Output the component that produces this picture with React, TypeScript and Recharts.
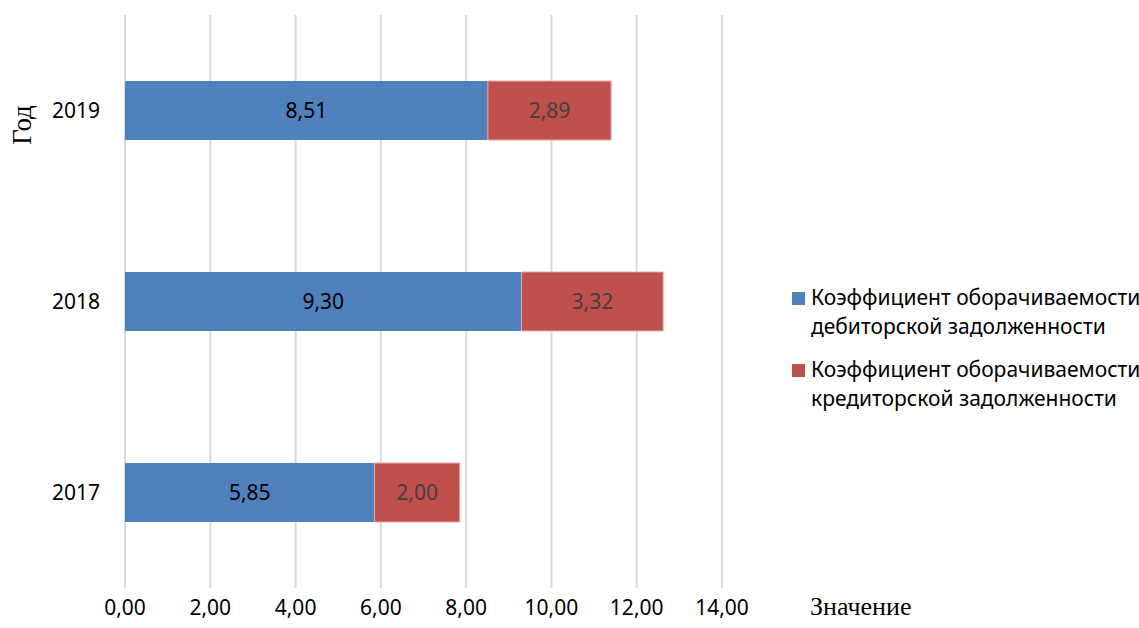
import { BarChart, Bar, XAxis, YAxis, CartesianGrid, LabelList } from 'recharts'

const years = ['2019', '2018', '2017']
const receivableTurnover = [8.51, 9.3, 5.85]
const payableTurnover = [2.89, 3.32, 2.0]
const xTicks = [0, 2, 4, 6, 8, 10, 12, 14]

const seriesNames = [
  'Коэффициент оборачиваемости дебиторской задолженности',
  'Коэффициент оборачиваемости кредиторской задолженности',
]
const BLUE = '#4f81bd'
const RED = '#c0504d'
const FONT = '"Noto Sans", "Open Sans", sans-serif'
const FS = 21

const data = years.map((y, i) => ({
  year: y,
  receivable: receivableTurnover[i],
  payable: payableTurnover[i],
}))

const fmt = (v: any) => Number(v).toFixed(2).replace('.', ',')

const LegendBox = () => (
  <div
    style={{
      position: 'absolute',
      left: 792,
      top: 283,
      fontFamily: FONT,
      fontSize: FS,
      color: '#000',
      lineHeight: '29px',
      whiteSpace: 'nowrap',
    }}
  >
    {seriesNames.map((name, i) => {
      const words = name.split(' ')
      return (
        <div key={name} style={{ display: 'flex', alignItems: 'flex-start', marginBottom: i === 0 ? 14 : 0 }}>
          <span
            style={{
              display: 'inline-block',
              width: 13,
              height: 13,
              marginTop: 9,
              marginRight: 6,
              background: i === 0 ? BLUE : RED,
            }}
          />
          <span>
            {words.slice(0, 2).join(' ')}
            <br />
            {words.slice(2).join(' ')}
          </span>
        </div>
      )
    })}
  </div>
)

export default function App() {
  return (
    <div style={{ position: 'absolute', left: 0, top: 0, width: 1139, height: 628, background: '#fff' }}>
      <BarChart
        width={1139}
        height={628}
        data={data}
        layout="vertical"
        margin={{ top: 15, right: 417, left: 0, bottom: 0 }}
        barSize={59}
      >
        <CartesianGrid horizontal={false} stroke="#d9d9d9" strokeWidth={2} />
        <XAxis
          type="number"
          domain={[0, 14]}
          ticks={xTicks}
          tickFormatter={fmt}
          axisLine={false}
          tickLine={false}
          tickSize={0}
          tickMargin={12}
          height={40}
          tick={{ fontSize: FS, fill: '#000', fontFamily: FONT }}
        />
        <YAxis
          type="category"
          dataKey="year"
          width={125}
          axisLine={false}
          tickLine={false}
          tickSize={0}
          tickMargin={25}
          tick={{ fontSize: FS, fill: '#000', fontFamily: FONT }}
        />
        <Bar dataKey="receivable" stackId="a" fill={BLUE} isAnimationActive={false}>
          <LabelList
            dataKey="receivable"
            position="center"
            formatter={fmt}
            style={{ fontSize: FS, fill: '#000', fontFamily: FONT }}
          />
        </Bar>
        <Bar dataKey="payable" stackId="a" fill={RED} stroke="#eaa9a7" strokeWidth={1} isAnimationActive={false}>
          <LabelList
            dataKey="payable"
            position="center"
            formatter={fmt}
            style={{ fontSize: FS, fill: '#404040', fontFamily: FONT, stroke: 'none' }}
          />
        </Bar>
      </BarChart>
      <LegendBox />
      <div
        style={{
          position: 'absolute',
          left: 810,
          top: 592,
          fontFamily: '"Liberation Serif", serif',
          fontSize: 26,
          color: '#000',
        }}
      >
        Значение
      </div>
      <div
        style={{
          position: 'absolute',
          left: 22,
          top: 125,
          transform: 'translate(-50%, -50%) rotate(-90deg)',
          fontFamily: '"Liberation Serif", serif',
          fontSize: 27,
          color: '#000',
        }}
      >
        Год
      </div>
    </div>
  )
}
